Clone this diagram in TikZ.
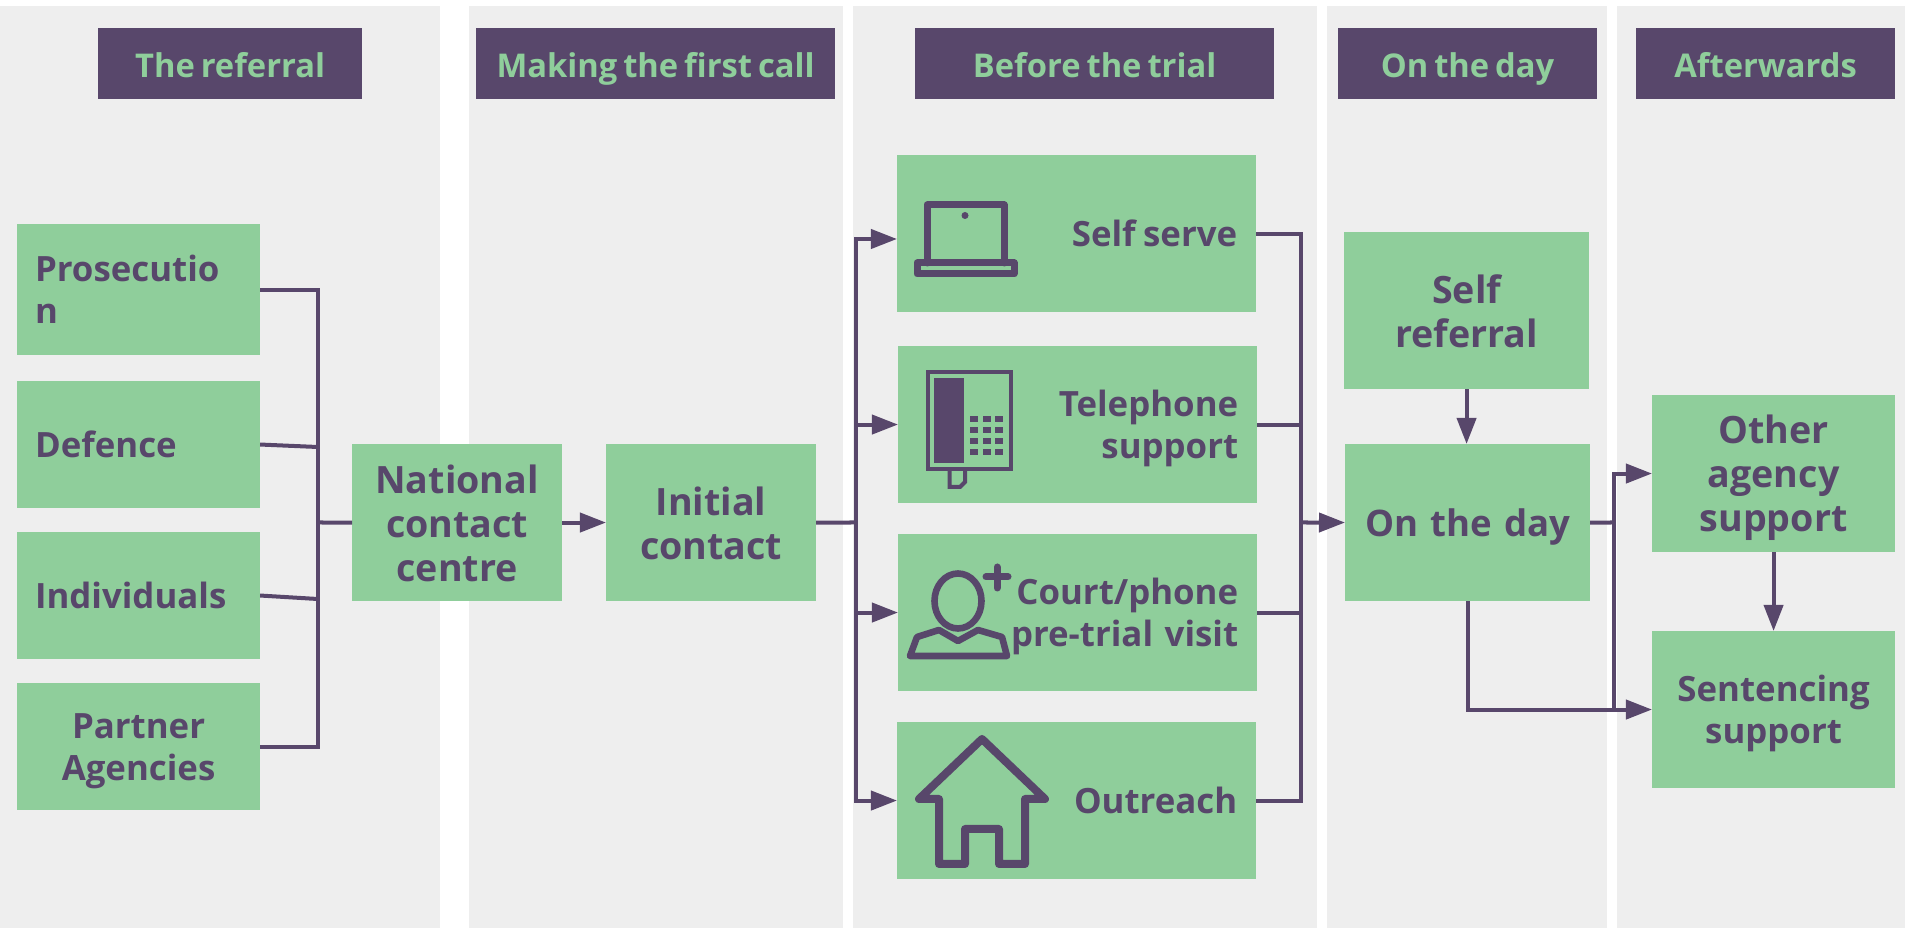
\documentclass[tikz,border=0pt]{standalone}
\usepackage{fontspec}
\setmainfont{Open Sans}[WordSpace=0.7]
\usetikzlibrary{arrows.meta}
\definecolor{plum}{HTML}{58476B}
\definecolor{leaf}{HTML}{8FCE9B}
\definecolor{panel}{HTML}{EEEEEE}
\newcommand\linestrut{\leavevmode\lineskiplimit=-100pt\vrule width0pt height\strutht\baselineskip depth\strutdp\baselineskip\relax}
\tikzset{
  box/.style 2 args={fill=leaf,text=plum,anchor=north west,inner xsep=.19cm,inner ysep=0pt,outer sep=0pt,
    text width=#1cm-.38cm,minimum height=#2cm,align=center,
    font=\fontsize{9.9pt}{12.1pt}\selectfont\bfseries\def\strutht{.8}\def\strutdp{.2},
    execute at begin node=\linestrut,execute at end node=\linestrut},
  big/.style={font=\fontsize{10.7pt}{12.5pt}\selectfont\bfseries\def\strutht{.83}\def\strutdp{.17}},
  leftbox/.style={align=left,inner xsep=.18cm,text width=2.07cm},
  head/.style={fill=plum,text=leaf,anchor=north west,inner sep=0pt,outer sep=0pt,minimum height=.71cm,
    text height=.30cm,text depth=.024cm,align=center,font=\fontsize{9.3pt}{11pt}\selectfont\bfseries},
  link/.style={draw=plum,line width=.04cm},
  icon/.style={draw=plum,line width=.066cm,line join=round,line cap=round}
}
\begin{document}
\begin{tikzpicture}[x=.01cm,y=-.01cm,>={Triangle[length=.26cm,width=.19cm]}]
  \useasboundingbox(0,0)rectangle(1905,928);
  \fill[white](0,0)rectangle(1905,928);
  \foreach \a/\b in {0/440,469/843,853/1317,1327/1607,1617/1905}
    \fill[panel](\a,6)rectangle(\b,928);
  \node[head,minimum width=2.64cm](headreferral)at(98,28){The referral};
  \node[head,minimum width=3.59cm](headcall)at(476,28){Making the first call};
  \node[head,minimum width=3.59cm](headtrial)at(915,28){Before the trial};
  \node[head,minimum width=2.59cm](headday)at(1338,28){On the day};
  \node[head,minimum width=2.59cm](headafter)at(1636,28){Afterwards};
  \node[box={2.43}{1.31},leftbox](prosecution)at(17,224){Prosecutio\\n};
  \node[box={2.43}{1.27},leftbox](defence)at(17,381){Defence};
  \node[box={2.43}{1.27},leftbox](individuals)at(17,532){Individuals};
  \node[box={2.43}{1.27}](partner)at(17,683){Partner\\Agencies};
  \node[box={2.10}{1.57},big](national)at(352,444){National\\contact\\centre};
  \node[box={2.10}{1.57},big](initial)at(606,444){Initial\\contact};
  \node[box={3.59}{1.57},align=right](selfserve)at(897,155){Self\kern-.12em\ serve};
  \node[box={3.59}{1.57},align=right](telephone)at(898,346){Telephone\\support};
  \node[box={3.59}{1.57},align=right](court)at(898,534){Court/phone\\pre-trial visit};
  \node[box={3.59}{1.57},align=right](outreach)at(897,722){Outreach};
  \node[box={2.45}{1.57},big](selfref)at(1344,232){Self\\referral};
  \node[box={2.45}{1.57},big,inner xsep=.05cm,text width=2.35cm,
    font=\fontsize{10.4pt}{12.5pt}\selectfont\bfseries\def\strutht{.83}\def\strutdp{.17}](onday)at(1345,444){On the day};
  \node[box={2.43}{1.57},big](agency)at(1652,395){Other\\agency\\support};
  \node[box={2.43}{1.57}](sentencing)at(1652,631){Sentencing\\support};
  \coordinate(mergein)at(317.5,522.5);
  \coordinate(defencein)at(317.5,447);
  \coordinate(individualsin)at(317.5,599);
  \coordinate(split)at(856,522.5);
  \coordinate(selfin)at(897,239);
  \coordinate(mergeout)at(1301,522.5);
  \coordinate(daysplit)at(1614,522.5);
  \draw[link](prosecution.east)-|(mergein)(partner.east)-|(mergein);
  \draw[link](defence.east)--(defencein)(individuals.east)--(individualsin);
  \draw[link](mergein)--(national.west);
  \draw[link,->](national.east)--(initial.west);
  \draw[link](initial.east)--(split);
  \draw[link,->](split)|-(selfin);
  \draw[link,->](split)|-(telephone.west);
  \draw[link,->](split)|-(court.west);
  \draw[link,->](split)|-(outreach.west);
  \draw[link](selfserve.east)-|(mergeout)(outreach.east)-|(mergeout);
  \draw[link](telephone.east)-|(mergeout)(court.east)-|(mergeout);
  \draw[link,->](mergeout)--(onday.west);
  \draw[link,->](selfref)--(selfref|-onday.north);
  \draw[link](onday.east)--(daysplit);
  \draw[link,->](daysplit)|-(agency.west);
  \draw[link](daysplit)--(daysplit|-sentencing.west);
  \draw[link,->](onday.south)|-(sentencing.west);
  \draw[link,->](agency)--(agency|-sentencing.north);
  \draw[icon,line width=.07cm](927,263)--(927,205)--(1004,205)--(1004,263)(917,263)rectangle(1014,274);
  \fill[plum](965,215.5)circle(3.5);
  \draw[icon,line width=.04cm,line cap=butt,line join=miter](928,372)rectangle(1011,469);
  \fill[plum](934,378)rectangle(964,463);
  \foreach \x in {970,983,995}
    \foreach \y in {416,427,438,449}
      \fill[plum](\x,\y)rectangle++(8,6.5);
  \draw[icon,line width=.04cm,line cap=butt,line join=miter](949.5,471)--(949.5,487)--(960,487)--(965,482)--(965,471);
  \draw[icon](958,601)ellipse[x radius=23.5,y radius=27.5];
  \draw[icon](910,656)--(917,637)--(939,630)--(958,641)--(978,630)--(1002,637)--(1007,656)--cycle;
  \draw[icon,line width=.07cm](986,577)--(1008,577)(997,567)--(997,588);
  \draw[icon,line width=.08cm](919,799)--(982,739)--(1045,799)--(1025,799)--(1025,864)--(999,864)--(999,829)--(965,829)--(965,864)--(939,864)--(939,799)--cycle;
\end{tikzpicture}
\end{document}
